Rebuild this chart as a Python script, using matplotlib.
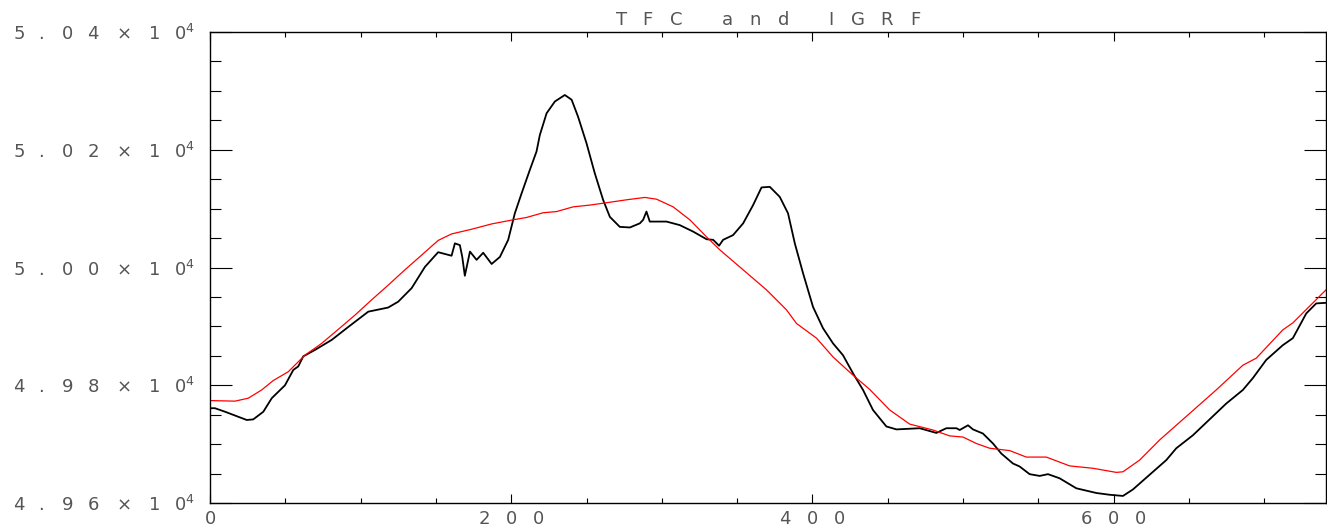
import matplotlib
matplotlib.use("Agg")
import matplotlib.pyplot as plt
from matplotlib.ticker import MultipleLocator, FuncFormatter

# TFC (black)
tfc_x = [0, 3.3, 10, 24.4, 28.7, 35.4, 41, 49.8, 55.3, 58.6, 61.9, 69.7, 80.8, 91.8,
         105.1, 118.3, 125, 133.9, 142.7, 151.5, 160.4, 162.6, 165.9, 167.5, 169.2,
         172.6, 177, 181.4, 187, 192.5, 198, 202.4, 206.9, 212.4, 216.8, 219, 223.5,
         229, 235.6, 240.1, 244.4, 250, 255.5, 261, 265.5, 272.1, 278.8, 285.4, 287.6,
         289.8, 292, 303.1, 311.9, 320.8, 329.7, 334.1, 338, 340.7, 347.3, 354, 360.6,
         366.2, 371.7, 378.3, 383.8, 388.3, 393.8, 400.4, 407, 413.7, 420.3, 427,
         433.6, 440.2, 449.1, 455.8, 471.2, 482.3, 488.9, 495.6, 497.8, 503.3, 506.6,
         513.2, 519.9, 525.4, 533.2, 537.6, 544.2, 550.9, 556.4, 564.1, 575.2, 588.5,
         597.3, 606.2, 612.8, 623.9, 635, 641.6, 652.6, 663.7, 674.8, 685.8, 692.4,
         701.3, 712.3, 719, 727.9, 734.5, 741]
tfc_y = [49761, 49761, 49755, 49741, 49742, 49755, 49778, 49800, 49826, 49832, 49849,
         49860, 49877, 49899, 49925, 49932, 49942, 49965, 50001, 50026, 50020, 50041,
         50038, 50018, 49986, 50027, 50013, 50025, 50006, 50018, 50047, 50092, 50126,
         50166, 50197, 50225, 50262, 50282, 50293, 50285, 50256, 50211, 50160, 50115,
         50086, 50069, 50068, 50075, 50081, 50095, 50078, 50078, 50072, 50061, 50048,
         50047, 50037, 50047, 50055, 50075, 50106, 50136, 50137, 50120, 50092, 50041,
         49990, 49933, 49897, 49871, 49851, 49820, 49792, 49758, 49730, 49725, 49727,
         49719, 49727, 49727, 49724, 49732, 49725, 49718, 49701, 49684, 49667, 49662,
         49649, 49646, 49649, 49642, 49625, 49617, 49614, 49612, 49623, 49648, 49673,
         49693, 49715, 49742, 49769, 49792, 49812, 49843, 49868, 49880, 49922, 49939,
         49940]

# IGRF (red)
igrf_x = [0, 16.6, 25.4, 34.3, 42, 52, 63, 74.1, 85.2, 96.2, 107.3, 118.3, 129.4,
          140.5, 151.5, 160.4, 173.7, 187, 201.3, 210.2, 221.2, 230.1, 241.1, 252.2,
          263.3, 276.6, 288.7, 296.5, 307.5, 318.6, 329.7, 338.5, 354, 369.5, 382.8,
          389.4, 402.7, 413.7, 427, 438, 451.3, 464.6, 480, 491.1, 500, 508.9, 517.7,
          531, 542, 555.3, 570.8, 586.2, 601.8, 606.2, 617.3, 630.5, 648.2, 668.1,
          685.8, 694.7, 712.3, 719, 741]
igrf_y = [49774, 49773, 49778, 49792, 49808, 49823, 49851, 49871, 49895, 49919, 49945,
          49970, 49996, 50021, 50046, 50057, 50065, 50074, 50081, 50085, 50093, 50095,
          50103, 50106, 50110, 50115, 50119, 50116, 50103, 50081, 50052, 50030, 49996,
          49962, 49928, 49905, 49880, 49848, 49817, 49793, 49758, 49734, 49724, 49714,
          49712, 49701, 49693, 49689, 49678, 49678, 49663, 49659, 49652, 49653, 49673,
          49707, 49747, 49792, 49834, 49846, 49894, 49906, 49962]

title_text = "TFC and IGRF"
text_col = "#555555"


def spaced(s, gap, word_gap):
    # imitate the wide vector font: letters pushed apart
    parts = []
    for ch in s:
        if ch == " ":
            parts.append(r"\hspace{%.2f}" % word_gap)
        elif ch == "x":
            parts.append(r"\times")
        else:
            parts.append(ch)
    return (r"\hspace{%.2f}" % gap).join(parts)


def ylab(v, pos):
    m = "%.2fx10" % (v / 1e4)
    return r"$\mathregular{%s^{4}}$" % spaced(m, 0.8, 0)


def xlab(v, pos):
    return r"$\mathregular{%s}$" % spaced("%d" % v, 0.9, 0)


fig = plt.figure(figsize=(13.27, 5.29), dpi=100)
ax = fig.add_axes([210 / 1327, 26 / 529, 1116 / 1327, 471 / 529])

ax.plot(tfc_x, tfc_y, color="black", lw=1.3)
ax.plot(igrf_x, igrf_y, color="red", lw=0.9)

ax.set_xlim(0, 741)
ax.set_ylim(49600, 50400)

ax.xaxis.set_major_locator(MultipleLocator(200))
ax.xaxis.set_minor_locator(MultipleLocator(50))
ax.yaxis.set_major_locator(MultipleLocator(200))
ax.yaxis.set_minor_locator(MultipleLocator(50))
ax.xaxis.set_major_formatter(FuncFormatter(xlab))
ax.yaxis.set_major_formatter(FuncFormatter(ylab))

ax.tick_params(which="both", direction="in", top=True, right=True, width=0.8,
               labelsize=13, labelcolor=text_col)
ax.tick_params(axis="x", which="major", length=6.8, pad=5)
ax.tick_params(axis="x", which="minor", length=3.4)
ax.tick_params(axis="y", which="major", length=16, pad=11)
ax.tick_params(axis="y", which="minor", length=8)

for sp in ax.spines.values():
    sp.set_linewidth(1.0)

ax.set_title(r"$\mathregular{%s}$" % spaced(title_text, 0.95, 0.35),
             fontsize=13, color=text_col, pad=5)

fig.savefig("out.png", dpi=100)
